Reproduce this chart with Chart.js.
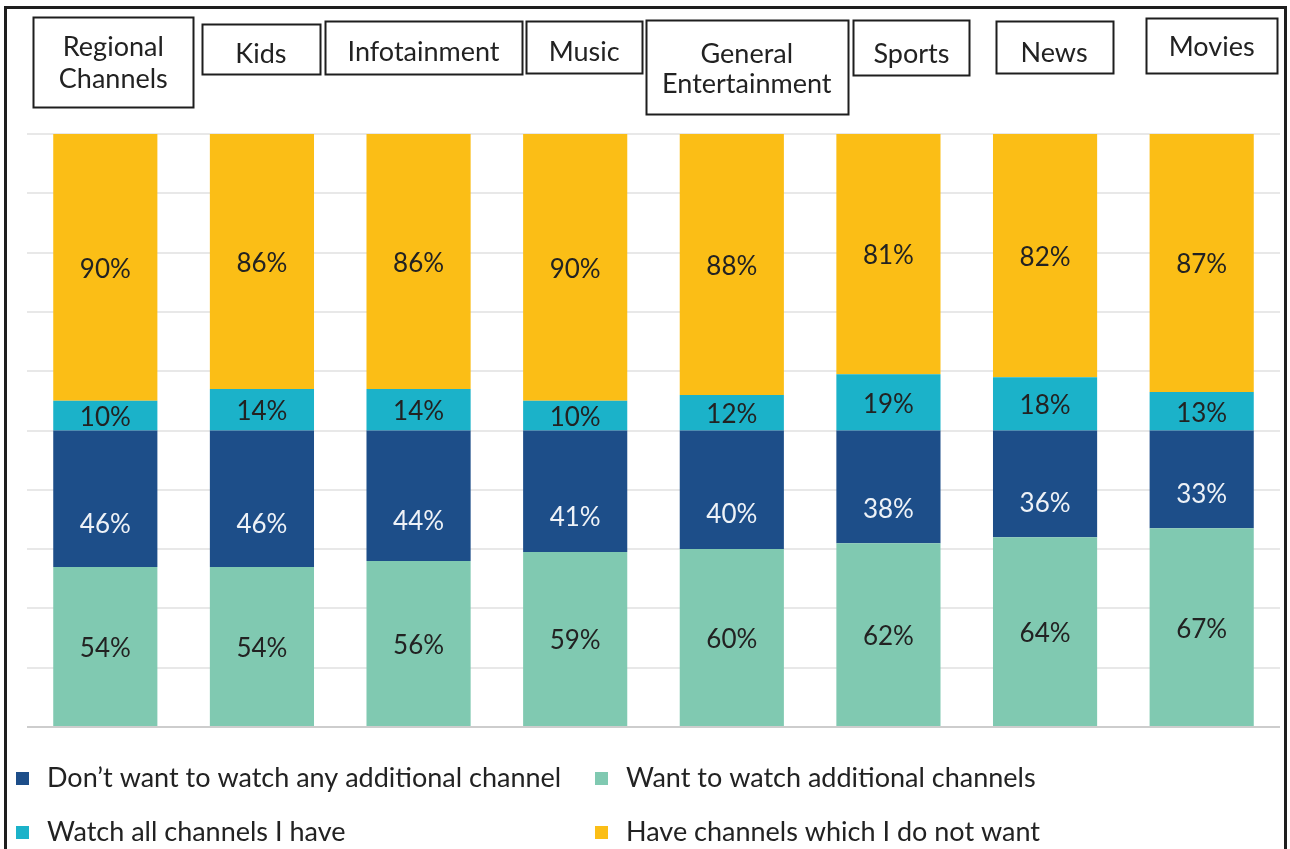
<!DOCTYPE html>
<html>
<head>
<meta charset="utf-8">
<script src="https://cdn.jsdelivr.net/npm/chart.js@4.4.1/dist/chart.umd.min.js"></script>
<style>
  html, body { margin: 0; padding: 0; background: #fff; }
  #wrap { position: relative; width: 1290px; height: 849px; }
</style>
</head>
<body>
<div id="wrap"><canvas id="chart" width="1290" height="849"></canvas></div>
<script>
// Survey data: each bar is two 100% stacks (lower half / upper half)
const categories = [['Regional', 'Channels'], 'Kids', 'Infotainment', 'Music', ['General', 'Entertainment'], 'Sports', 'News', 'Movies'];
const wantMore = [54, 54, 56, 59, 60, 62, 64, 67];
const noMore = [46, 46, 44, 41, 40, 38, 36, 33];
const watchAll = [10, 14, 14, 10, 12, 19, 18, 13];
const unwanted = [90, 86, 86, 90, 88, 81, 82, 87];

const FONT = 'Lato, "Open Sans", sans-serif';

// Boxed category headings above the bars (offset from the bar centre)
const headerBoxes = [
  { dx: 8, w: 160, top: 17, h: 90, lines: [56, 88] },
  { dx: -1, w: 118, top: 24, h: 50, lines: [63] },
  { dx: 5, w: 197, top: 21, h: 53, lines: [61] },
  { dx: 9, w: 116, top: 21, h: 52, lines: [61] },
  { dx: 15, w: 202, top: 20, h: 94, lines: [63, 93] },
  { dx: 23, w: 116, top: 20, h: 55, lines: [63] },
  { dx: 9, w: 117, top: 21, h: 52, lines: [62] },
  { dx: 10, w: 131, top: 18, h: 55, lines: [56] }
];

const headersPlugin = {
  id: 'headers',
  afterDraw(chart) {
    const ctx = chart.ctx;
    const xScale = chart.scales.x;
    ctx.save();
    // outer frame
    ctx.strokeStyle = '#1e1e1e';
    ctx.lineWidth = 3;
    ctx.strokeRect(5.5, 7.5, 1280, 900);

    ctx.lineWidth = 2;
    ctx.font = '27px ' + FONT;
    ctx.fillStyle = '#222';
    ctx.textAlign = 'center';
    ctx.textBaseline = 'alphabetic';
    categories.forEach((cat, i) => {
      const b = headerBoxes[i];
      const cx = xScale.getPixelForValue(i) + b.dx;
      ctx.strokeRect(Math.round(cx - b.w / 2) + 0.5, b.top + 0.5, b.w, b.h);
      const lines = Array.isArray(cat) ? cat : [cat];
      lines.forEach((t, k) => ctx.fillText(t, cx, b.lines[k]));
    });
    ctx.restore();
  }
};

const valueLabels = {
  id: 'valueLabels',
  afterDatasetsDraw(chart) {
    const ctx = chart.ctx;
    ctx.save();
    ctx.font = '26px ' + FONT;
    ctx.textAlign = 'center';
    ctx.textBaseline = 'middle';
    chart.data.datasets.forEach((ds, di) => {
      const meta = chart.getDatasetMeta(di);
      ctx.fillStyle = ds.labelColor;
      meta.data.forEach((bar, i) => {
        let y = (bar.y + bar.base) / 2;
        if (ds.labelShift) {
          y = Math.min(y + ds.labelShift, bar.base - 36);
        }
        ctx.fillText(ds.data[i] + '%', bar.x, y + 2);
      });
    });
    ctx.restore();
  }
};

// Two-column legend under the plot
const legendSlots = [
  { ds: 1, x: 16, y: 778 },
  { ds: 0, x: 595, y: 778 },
  { ds: 2, x: 16, y: 832 },
  { ds: 3, x: 595, y: 832 }
];

const legendPlugin = {
  id: 'bottomLegend',
  afterDraw(chart) {
    const ctx = chart.ctx;
    ctx.save();
    ctx.font = '27px ' + FONT;
    ctx.textBaseline = 'middle';
    ctx.textAlign = 'left';
    legendSlots.forEach(s => {
      const ds = chart.data.datasets[s.ds];
      ctx.fillStyle = ds.backgroundColor;
      ctx.fillRect(s.x, s.y - 6, 13, 13);
      ctx.fillStyle = '#222';
      ctx.fillText(ds.label, s.x + 31, s.y);
    });
    ctx.restore();
  }
};

new Chart(document.getElementById('chart'), {
  type: 'bar',
  data: {
    labels: categories,
    datasets: [
      { label: 'Want to watch additional channels', data: wantMore, backgroundColor: '#80c9b1', labelColor: '#222' },
      { label: 'Don\u2019t want to watch any additional channel', data: noMore, backgroundColor: '#1d4e89', labelColor: '#eef2f7', labelShift: 24 },
      { label: 'Watch all channels I have', data: watchAll, backgroundColor: '#1bb2c9', labelColor: '#222' },
      { label: 'Have channels which I do not want', data: unwanted, backgroundColor: '#fbbe16', labelColor: '#222' }
    ]
  },
  options: {
    responsive: false,
    devicePixelRatio: 1,
    animation: false,
    layout: { padding: { left: 27, right: 10, top: 134, bottom: 122 } },
    datasets: {
      bar: { categoryPercentage: 1, barPercentage: 0.665, borderWidth: 0 }
    },
    plugins: {
      legend: { display: false },
      tooltip: { enabled: false }
    },
    scales: {
      x: { display: false, stacked: true },
      y: {
        stacked: true,
        min: 0,
        max: 200,
        ticks: { display: false, stepSize: 20 },
        border: { display: false },
        grid: {
          drawTicks: false,
          lineWidth: 2,
          color: c => (c.tick && c.tick.value === 0 ? '#cdcdcd' : '#e8e8e8')
        }
      }
    }
  },
  plugins: [headersPlugin, valueLabels, legendPlugin]
});
</script>
</body>
</html>
